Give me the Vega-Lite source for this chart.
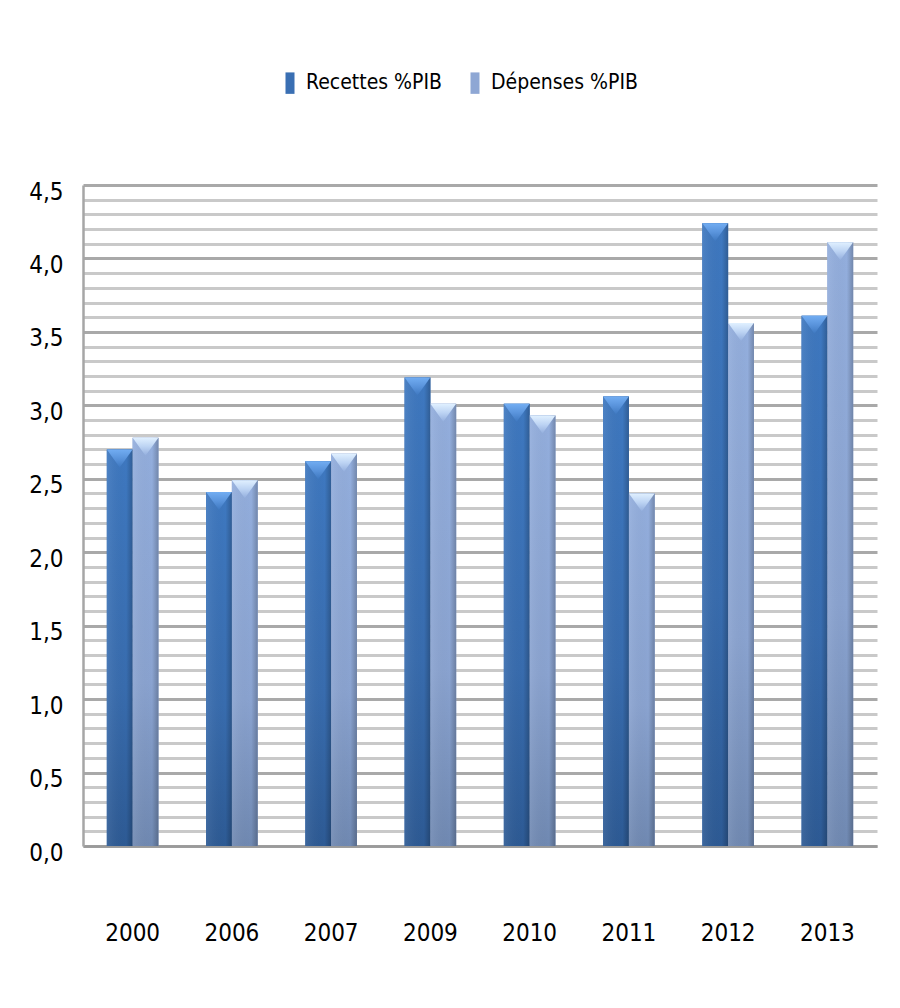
{
  "$schema": "https://vega.github.io/schema/vega-lite/v6.json",
  "width": 794,
  "height": 661,
  "autosize": {"type": "none"},
  "padding": {"left": 83, "top": 185, "right": 23, "bottom": 162},
  "background": "white",
  "config": {
    "font": "DejaVu Sans Condensed, sans-serif",
    "view": {"stroke": null},
    "axis": {"labelColor": "#000000", "labelFont": "DejaVu Sans Condensed, sans-serif"},
    "legend": {"labelColor": "#000000", "labelFont": "DejaVu Sans Condensed, sans-serif"}
  },
  "data": {
    "values": [
      {"annee": "2000", "serie": "Recettes %PIB", "valeur": 2.70},
      {"annee": "2000", "serie": "Dépenses %PIB", "valeur": 2.78},
      {"annee": "2006", "serie": "Recettes %PIB", "valeur": 2.41},
      {"annee": "2006", "serie": "Dépenses %PIB", "valeur": 2.49},
      {"annee": "2007", "serie": "Recettes %PIB", "valeur": 2.62},
      {"annee": "2007", "serie": "Dépenses %PIB", "valeur": 2.67},
      {"annee": "2009", "serie": "Recettes %PIB", "valeur": 3.19},
      {"annee": "2009", "serie": "Dépenses %PIB", "valeur": 3.01},
      {"annee": "2010", "serie": "Recettes %PIB", "valeur": 3.01},
      {"annee": "2010", "serie": "Dépenses %PIB", "valeur": 2.93},
      {"annee": "2011", "serie": "Recettes %PIB", "valeur": 3.06},
      {"annee": "2011", "serie": "Dépenses %PIB", "valeur": 2.40},
      {"annee": "2012", "serie": "Recettes %PIB", "valeur": 4.24},
      {"annee": "2012", "serie": "Dépenses %PIB", "valeur": 3.56},
      {"annee": "2013", "serie": "Recettes %PIB", "valeur": 3.61},
      {"annee": "2013", "serie": "Dépenses %PIB", "valeur": 4.11}
    ]
  },
  "encoding": {
    "x": {
      "field": "annee",
      "type": "nominal",
      "scale": {"paddingInner": 0.48, "paddingOuter": 0.24},
      "axis": {
        "title": null,
        "labelAngle": 0,
        "labelFontSize": 24,
        "labelPadding": 75,
        "labelBaseline": "top",
        "ticks": false,
        "domainColor": "#9a9a9a",
        "domainWidth": 2.5
      }
    },
    "xOffset": {
      "field": "serie",
      "type": "nominal",
      "scale": {"domain": ["Recettes %PIB", "Dépenses %PIB"], "paddingInner": 0, "paddingOuter": 0}
    },
    "y": {
      "field": "valeur",
      "type": "quantitative",
      "scale": {"domain": [0, 4.5], "nice": false, "zero": true},
      "axis": {
        "title": null,
        "values": [0, 0.1, 0.2, 0.3, 0.4, 0.5, 0.6, 0.7, 0.8, 0.9, 1, 1.1, 1.2, 1.3, 1.4, 1.5, 1.6, 1.7, 1.8, 1.9, 2, 2.1, 2.2, 2.3, 2.4, 2.5, 2.6, 2.7, 2.8, 2.9, 3, 3.1, 3.2, 3.3, 3.4, 3.5, 3.6, 3.7, 3.8, 3.9, 4, 4.1, 4.2, 4.3, 4.4, 4.5],
        "labelExpr": "round(datum.value * 10) % 5 == 0 ? replace(format(datum.value, '.1f'), '.', ',') : ''",
        "labelFontSize": 24,
        "labelPadding": 20,
        "labelOffset": 7,
        "ticks": false,
        "grid": true,
        "gridColor": {"condition": {"test": "round(datum.value * 10) % 5 == 0", "value": "#a9a9a9"}, "value": "#c9c9c9"},
        "gridWidth": 3,
        "domainColor": "#a6a6a6",
        "domainWidth": 2.5
      }
    }
  },
  "layer": [
    {
      "mark": {"type": "bar"},
      "encoding": {
        "color": {
          "field": "serie",
          "type": "nominal",
          "scale": {"domain": ["Recettes %PIB", "Dépenses %PIB"], "range": ["#3a6fb3", "#8ea7d4"]},
          "legend": {
            "title": null,
            "orient": "none",
            "direction": "horizontal",
            "legendX": 196,
            "legendY": -113,
            "labelFontSize": 21,
            "labelLimit": 0,
            "symbolType": "M-0.42,-1 L0.42,-1 L0.42,1 L-0.42,1 Z",
            "symbolSize": 460,
            "symbolStrokeWidth": 0,
            "labelOffset": 5,
            "columnPadding": 22
          }
        }
      }
    },
    {
      "transform": [{"filter": "datum.serie == 'Recettes %PIB'"}],
      "mark": {
        "type": "bar",
        "fill": {
          "gradient": "linear", "x1": 0, "y1": 0, "x2": 0, "y2": 1,
          "stops": [
            {"offset": 0, "color": "#3e78c0"},
            {"offset": 0.6, "color": "#386cae"},
            {"offset": 1, "color": "#2d5a94"}
          ]
        }
      }
    },
    {
      "transform": [{"filter": "datum.serie == 'Dépenses %PIB'"}],
      "mark": {
        "type": "bar",
        "fill": {
          "gradient": "linear", "x1": 0, "y1": 0, "x2": 0, "y2": 1,
          "stops": [
            {"offset": 0, "color": "#93aedd"},
            {"offset": 0.6, "color": "#8aa3d0"},
            {"offset": 1, "color": "#7089b2"}
          ]
        }
      }
    },
    {
      "mark": {
        "type": "bar",
        "fill": {
          "gradient": "linear", "x1": 0, "y1": 0, "x2": 1, "y2": 0,
          "stops": [
            {"offset": 0, "color": "rgba(255,255,255,0.08)"},
            {"offset": 0.75, "color": "rgba(0,0,0,0)"},
            {"offset": 1, "color": "rgba(0,0,0,0.22)"}
          ]
        }
      }
    },
    {
      "transform": [{"filter": "datum.serie == 'Recettes %PIB'"}],
      "mark": {
        "type": "point",
        "filled": true,
        "shape": "M-1,0 L1,0 L0,1.4 Z",
        "size": 660,
        "strokeWidth": 0,
        "opacity": 1,
        "fill": {
          "gradient": "linear", "x1": 0, "y1": 0, "x2": 0, "y2": 1,
          "stops": [
            {"offset": 0, "color": "#72adf2"},
            {"offset": 0.5, "color": "#5a94dc"},
            {"offset": 1, "color": "#3e78c0"}
          ]
        }
      }
    },
    {
      "transform": [{"filter": "datum.serie == 'Dépenses %PIB'"}],
      "mark": {
        "type": "point",
        "filled": true,
        "shape": "M-1,0 L1,0 L0,1.4 Z",
        "size": 660,
        "strokeWidth": 0,
        "opacity": 1,
        "fill": {
          "gradient": "linear", "x1": 0, "y1": 0, "x2": 0, "y2": 1,
          "stops": [
            {"offset": 0, "color": "#e0f0ff"},
            {"offset": 0.5, "color": "#bcd3f3"},
            {"offset": 1, "color": "#93aedd"}
          ]
        }
      }
    }
  ]
}
